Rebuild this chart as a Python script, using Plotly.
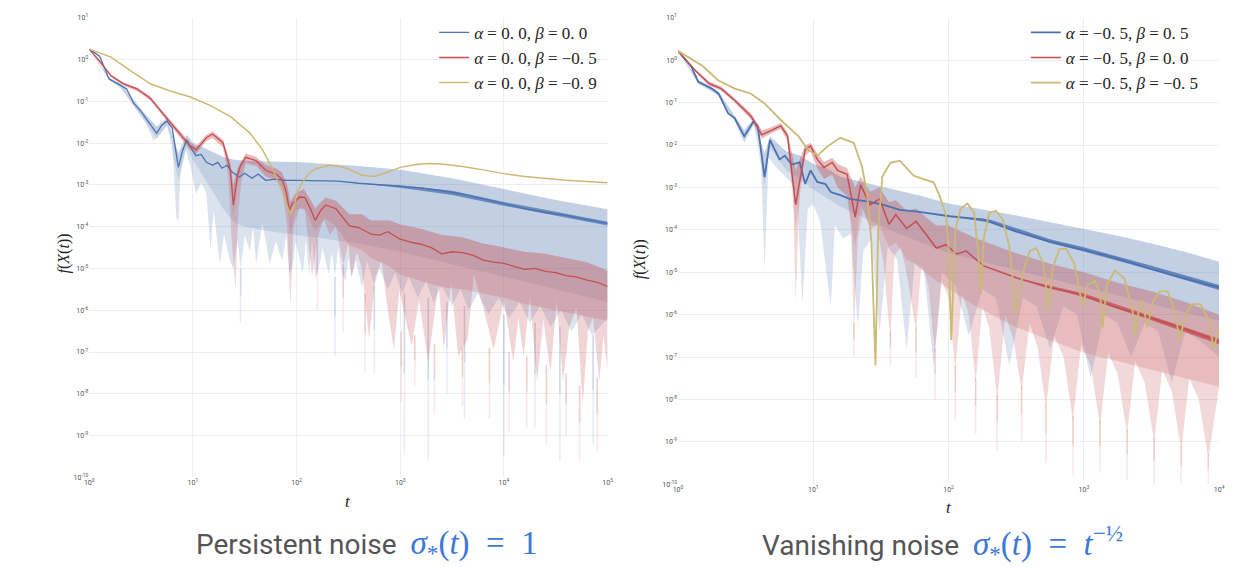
import numpy as np
import plotly.graph_objects as go

# ---------------- data (log10 t, log10 f) ----------------
# LEFT panel: persistent noise
L_blue_lt = [0.00,0.10,0.19,0.25,0.30,0.36,0.43,0.50,0.555,0.60,0.65,0.70,0.75,0.80,0.86,0.90,0.94,0.98,1.03,1.08,1.13,1.19,1.24,1.28,1.33,1.38,1.45,1.50,1.57,1.63,1.70,1.80,1.90,2.00,2.20,2.40,2.60,2.80,3.00,3.20,3.40,3.60,3.80,4.00,4.20,4.40,4.60,4.80,5.00]
L_blue_mean = [0.25,0.08,-0.46,-0.55,-0.62,-0.70,-1.05,-1.24,-1.44,-1.59,-1.76,-1.57,-1.47,-1.64,-2.58,-2.18,-1.92,-2.11,-2.30,-2.27,-2.46,-2.53,-2.46,-2.60,-2.53,-2.70,-2.81,-2.72,-2.84,-2.74,-2.89,-2.86,-2.89,-2.89,-2.90,-2.91,-2.96,-3.00,-3.04,-3.07,-3.14,-3.22,-3.33,-3.45,-3.57,-3.66,-3.73,-3.83,-3.92]
L_blue_noise_lt = [2.60,3.00,3.50,4.00,4.50,5.00]
L_blue_noise_hi = [-2.96,-3.01,-3.14,-3.41,-3.64,-3.88]
L_blue_noise_lo = [-2.96,-3.07,-3.24,-3.50,-3.74,-3.97]
L_blue_up_lt = [0.00,0.20,0.30,0.43,0.55,0.65,0.75,0.86,0.94,1.00,1.10,1.20,1.30,1.40,1.50,1.70,2.00,2.30,2.60,3.00,3.50,4.00,4.50,5.00]
L_blue_up = [0.25,-0.44,-0.57,-0.98,-1.33,-1.60,-1.40,-2.25,-1.80,-1.99,-2.11,-2.23,-2.34,-2.40,-2.42,-2.44,-2.45,-2.50,-2.55,-2.64,-2.84,-3.10,-3.36,-3.58]
L_blue_core = [0.25,-0.50,-0.65,-1.10,-1.52,-1.90,-1.57,-2.90,-2.10,-2.40,-2.80,-3.20,-3.60,-3.90,-4.00,-4.10,-4.20,-4.30,-4.40,-4.60,-4.90,-5.20,-5.50,-5.80]
L_blue_lo_lt = [0.00,0.20,0.30,0.43,0.55,0.62,0.68,0.75,0.80,0.84,0.86,0.88,0.93,0.98,1.03,1.08,1.13,1.17,1.20,1.26,1.30,1.36,1.39,1.43,1.46,1.50,1.55,1.58,1.61,1.67,1.74,1.80,1.86,1.90,1.93,1.96,1.99,2.06,2.09,2.12,2.15,2.18,2.23,2.25,2.31,2.34,2.37,2.40,2.44,2.47,2.50,2.53,2.57,2.63,2.68,2.75,2.80,2.88,2.95,3.02,3.08,3.17,3.25,3.32,3.40,3.50,3.58,3.66,3.75,3.85,3.95,4.05,4.15,4.25,4.35,4.45,4.55,4.65,4.75,4.85,5.00]
L_blue_lo = [0.25,-0.52,-0.68,-1.12,-1.55,-1.94,-1.80,-1.58,-1.95,-3.80,-3.85,-2.70,-2.15,-2.60,-3.22,-2.95,-3.20,-4.55,-3.60,-4.90,-4.20,-4.82,-5.00,-4.30,-5.00,-4.20,-4.58,-4.00,-4.90,-3.90,-4.89,-4.35,-4.82,-4.20,-5.10,-4.98,-4.35,-5.10,-4.30,-5.13,-4.35,-5.22,-4.82,-4.51,-5.13,-4.60,-5.20,-4.51,-5.13,-5.30,-4.75,-5.20,-4.80,-5.45,-4.82,-5.40,-5.00,-5.50,-5.10,-5.60,-5.20,-5.70,-5.30,-5.80,-5.40,-5.90,-5.50,-6.00,-5.60,-6.10,-5.70,-6.20,-5.80,-6.30,-5.90,-6.40,-6.00,-6.50,-6.10,-6.60,-6.20]
L_blue_spk_lt = [1.46,2.37,2.75,3.04,3.27,3.45,3.62,4.00,4.30,4.54,4.86]
L_blue_spk_top = [-5.0,-5.2,-5.4,-5.6,-5.7,-5.8,-5.9,-6.1,-6.3,-6.4,-6.6]
L_blue_spk_bot = [-6.3,-7.1,-7.5,-9.4,-9.6,-8.0,-8.6,-9.5,-8.8,-9.6,-9.2]

L_red_lt = [0.00,0.10,0.21,0.33,0.46,0.59,0.71,0.84,0.97,1.03,1.13,1.19,1.29,1.36,1.39,1.43,1.46,1.51,1.61,1.70,1.80,1.86,1.90,1.93,1.96,2.03,2.08,2.13,2.18,2.23,2.28,2.38,2.45,2.51,2.60,2.72,2.80,2.88,3.00,3.10,3.20,3.30,3.40,3.50,3.60,3.70,3.80,3.90,4.00,4.10,4.20,4.30,4.40,4.50,4.60,4.70,4.80,4.90,5.00]
L_red_mean = [0.25,-0.04,-0.39,-0.58,-0.70,-0.93,-1.29,-1.68,-2.06,-2.16,-1.87,-1.78,-1.99,-2.62,-3.48,-2.77,-2.53,-2.34,-2.42,-2.65,-2.74,-2.86,-3.17,-3.60,-3.45,-3.29,-3.30,-3.55,-3.85,-3.62,-3.48,-3.57,-3.80,-3.98,-4.02,-4.18,-4.20,-4.12,-4.30,-4.37,-4.42,-4.50,-4.65,-4.60,-4.62,-4.68,-4.80,-4.85,-4.88,-4.95,-5.02,-5.00,-5.07,-5.10,-5.17,-5.20,-5.28,-5.33,-5.43]
L_red_up_lt = [0.00,0.10,0.21,0.33,0.46,0.59,0.71,0.84,0.97,1.03,1.13,1.19,1.29,1.36,1.39,1.43,1.51,1.61,1.70,1.80,1.86,1.91,1.94,1.99,2.07,2.18,2.28,2.38,2.51,2.63,2.72,2.90,3.00,3.20,3.40,3.60,3.80,4.00,4.20,4.40,4.60,4.80,5.00]
L_red_up = [0.25,-0.02,-0.36,-0.55,-0.66,-0.88,-1.24,-1.62,-1.98,-2.08,-1.80,-1.72,-1.92,-2.45,-3.00,-2.60,-2.25,-2.33,-2.52,-2.60,-2.70,-3.00,-3.40,-3.20,-3.10,-3.55,-3.30,-3.38,-3.70,-3.70,-3.85,-3.85,-3.95,-4.05,-4.20,-4.25,-4.40,-4.50,-4.60,-4.65,-4.75,-4.85,-5.05]
L_red_core = [0.25,-0.06,-0.42,-0.62,-0.75,-0.98,-1.35,-1.75,-2.15,-2.25,-1.95,-1.88,-2.10,-2.80,-3.80,-3.00,-2.45,-2.52,-2.78,-2.88,-3.05,-3.50,-4.20,-3.60,-3.55,-4.10,-3.80,-4.00,-4.45,-4.55,-4.75,-4.95,-5.15,-5.30,-5.45,-5.50,-5.60,-5.70,-5.85,-5.95,-6.05,-6.15,-6.25]
L_red_lo_lt = [0.00,0.10,0.21,0.33,0.46,0.59,0.71,0.84,0.97,1.03,1.13,1.19,1.29,1.34,1.37,1.41,1.44,1.47,1.51,1.61,1.70,1.80,1.86,1.91,1.94,1.97,2.03,2.08,2.15,2.20,2.26,2.32,2.38,2.45,2.50,2.53,2.58,2.63,2.70,2.76,2.82,2.88,2.94,2.99,3.05,3.11,3.18,3.27,3.37,3.42,3.49,3.56,3.65,3.71,3.80,3.90,4.00,4.09,4.14,4.19,4.25,4.32,4.38,4.45,4.51,4.57,4.63,4.70,4.76,4.81,4.86,4.92,4.96,5.00]
L_red_lo = [0.25,-0.06,-0.42,-0.62,-0.75,-0.98,-1.35,-1.75,-2.15,-2.25,-1.95,-1.88,-2.10,-2.80,-4.20,-5.50,-3.60,-2.90,-2.50,-2.55,-2.80,-2.90,-3.10,-4.00,-5.90,-4.00,-3.55,-3.60,-5.20,-4.30,-3.80,-4.20,-4.00,-4.90,-4.40,-5.22,-4.60,-5.00,-6.70,-5.20,-4.82,-6.00,-6.94,-5.53,-6.20,-6.87,-5.76,-7.24,-5.36,-6.94,-5.36,-7.10,-6.70,-5.13,-5.93,-6.94,-5.76,-7.24,-6.20,-7.10,-5.69,-7.71,-6.23,-7.48,-5.76,-7.71,-6.40,-5.93,-8.28,-6.50,-6.16,-7.71,-6.60,-7.48]
L_red_spk_lt = [2.20,2.45,2.66,3.01,3.14,3.33,3.60,3.86,4.05,4.22,4.41,4.60,4.73,4.90]
L_red_spk_top = [-4.3,-4.9,-5.6,-6.5,-6.6,-6.8,-6.9,-6.9,-7.0,-7.1,-7.3,-7.5,-7.8,-7.6]
L_red_spk_bot = [-6.0,-6.5,-7.5,-8.2,-7.8,-8.5,-8.3,-8.6,-8.9,-8.8,-9.2,-9.0,-9.6,-9.4]

L_yel_lt = [0.00,0.21,0.40,0.59,0.78,0.97,1.16,1.36,1.55,1.67,1.77,1.85,1.90,1.94,1.97,2.01,2.06,2.12,2.18,2.31,2.40,2.50,2.63,2.75,2.85,3.00,3.15,3.27,3.40,3.60,3.80,4.00,4.20,4.40,4.60,4.80,5.00]
L_yel_mean = [0.25,0.06,-0.27,-0.58,-0.75,-0.89,-1.09,-1.36,-1.76,-2.15,-2.62,-3.09,-3.45,-3.71,-3.55,-3.15,-2.93,-2.72,-2.62,-2.53,-2.55,-2.62,-2.77,-2.80,-2.72,-2.58,-2.51,-2.49,-2.50,-2.56,-2.64,-2.73,-2.80,-2.85,-2.89,-2.92,-2.95]

# RIGHT panel: vanishing noise
R_blue_lt = [0.00,0.10,0.15,0.25,0.30,0.37,0.42,0.49,0.56,0.59,0.64,0.68,0.75,0.79,0.84,0.90,0.94,0.98,1.03,1.09,1.13,1.20,1.27,1.42,1.52,1.64,1.77,1.91,2.01,2.26,2.50,2.74,2.99,3.23,3.47,3.72,4.00]
R_blue_mean = [0.22,-0.16,-0.51,-0.67,-0.79,-1.25,-1.37,-1.79,-1.44,-1.56,-2.76,-1.88,-2.34,-2.25,-2.46,-2.41,-2.92,-2.60,-2.87,-2.92,-3.11,-3.18,-3.27,-3.34,-3.41,-3.53,-3.57,-3.64,-3.68,-3.76,-4.04,-4.27,-4.46,-4.66,-4.90,-5.13,-5.36]
R_blue_noise_lt = [2.01,2.30,2.75,3.00,3.50,4.00]
R_blue_noise_hi = [-3.68,-3.75,-4.22,-4.41,-4.85,-5.30]
R_blue_noise_lo = [-3.68,-3.83,-4.31,-4.51,-4.95,-5.42]
R_blue_up_lt = [0.00,0.15,0.30,0.42,0.49,0.56,0.64,0.68,0.80,0.90,1.00,1.10,1.20,1.40,1.60,1.80,2.00,2.25,2.50,2.75,3.00,3.25,3.50,3.75,4.00]
R_blue_up = [0.22,-0.46,-0.74,-1.30,-1.65,-1.38,-2.20,-1.80,-2.15,-2.25,-2.45,-2.55,-2.75,-2.90,-3.05,-3.20,-3.38,-3.52,-3.66,-3.82,-3.98,-4.14,-4.32,-4.52,-4.75]
R_blue_core = [0.22,-0.54,-0.82,-1.42,-1.90,-1.50,-3.00,-2.05,-2.60,-2.80,-3.05,-3.25,-3.45,-3.75,-4.05,-4.30,-4.55,-4.75,-4.95,-5.15,-5.35,-5.55,-5.75,-5.95,-6.15]
R_blue_lo_lt = [0.00,0.15,0.30,0.42,0.49,0.56,0.61,0.64,0.67,0.72,0.78,0.84,0.88,0.92,0.96,1.00,1.05,1.13,1.16,1.22,1.28,1.33,1.37,1.43,1.49,1.55,1.62,1.69,1.75,1.82,1.89,1.95,2.05,2.15,2.25,2.35,2.45,2.55,2.65,2.75,2.85,2.95,3.05,3.15,3.25,3.35,3.45,3.55,3.65,3.75,3.85,4.00]
R_blue_lo = [0.22,-0.56,-0.84,-1.45,-1.95,-1.52,-2.00,-4.96,-2.30,-2.50,-2.70,-2.90,-3.20,-5.73,-3.50,-3.40,-3.80,-5.82,-3.90,-4.20,-4.10,-6.29,-4.50,-4.20,-6.42,-4.40,-4.70,-6.82,-4.80,-5.00,-7.21,-5.00,-5.30,-6.50,-5.40,-5.60,-7.20,-5.60,-5.80,-6.80,-5.80,-6.00,-7.50,-6.00,-6.20,-7.00,-6.20,-6.40,-7.60,-6.40,-6.60,-7.00]

R_red_lt = [0.00,0.13,0.23,0.32,0.42,0.54,0.62,0.69,0.76,0.81,0.87,0.94,0.98,1.03,1.08,1.14,1.18,1.25,1.31,1.35,1.42,1.49,1.56,1.61,1.69,1.76,1.83,1.91,1.98,2.06,2.13,2.26,2.50,2.74,2.99,3.23,3.47,3.72,4.00]
R_red_mean = [0.22,-0.25,-0.55,-0.67,-0.95,-1.32,-1.76,-1.65,-1.55,-1.79,-3.41,-2.11,-2.02,-2.34,-2.53,-2.41,-2.60,-2.69,-3.70,-2.94,-3.41,-3.27,-3.87,-3.64,-3.97,-3.80,-4.10,-4.43,-4.35,-4.57,-4.50,-4.85,-5.13,-5.36,-5.54,-5.82,-6.05,-6.31,-6.63]
R_red_noise_lt = [2.50,3.00,3.50,4.00]
R_red_noise_hi = [-5.13,-5.50,-6.03,-6.57]
R_red_noise_lo = [-5.13,-5.59,-6.13,-6.70]
R_red_up_lt = [0.00,0.13,0.23,0.32,0.42,0.54,0.62,0.69,0.76,0.81,0.87,0.94,0.98,1.03,1.08,1.14,1.18,1.25,1.31,1.35,1.42,1.49,1.56,1.61,1.69,1.76,1.83,1.91,2.00,2.20,2.50,2.75,3.00,3.25,3.50,3.75,4.00]
R_red_up = [0.22,-0.22,-0.50,-0.62,-0.90,-1.25,-1.65,-1.58,-1.48,-1.70,-2.60,-2.00,-1.95,-2.20,-2.40,-2.30,-2.45,-2.55,-3.00,-2.75,-3.10,-3.00,-3.35,-3.30,-3.55,-3.50,-3.70,-3.90,-3.90,-4.20,-4.55,-4.80,-5.00,-5.25,-5.45,-5.70,-6.00]
R_red_core = [0.22,-0.28,-0.60,-0.72,-1.00,-1.40,-1.85,-1.72,-1.62,-1.90,-4.00,-2.25,-2.15,-2.55,-2.80,-2.70,-3.00,-3.20,-4.40,-3.40,-3.90,-3.90,-4.40,-4.30,-4.70,-4.80,-5.00,-5.20,-5.40,-5.80,-6.30,-6.60,-6.90,-7.10,-7.30,-7.50,-7.70]
R_red_lo_lt = [0.00,0.13,0.23,0.32,0.42,0.54,0.62,0.69,0.76,0.81,0.85,0.87,0.90,0.94,0.98,1.03,1.08,1.14,1.18,1.25,1.28,1.30,1.33,1.37,1.42,1.47,1.52,1.57,1.60,1.65,1.70,1.76,1.80,1.85,1.90,1.95,2.00,2.05,2.10,2.15,2.20,2.25,2.30,2.36,2.42,2.48,2.54,2.60,2.66,2.72,2.78,2.85,2.92,2.98,3.05,3.12,3.18,3.25,3.32,3.38,3.45,3.52,3.58,3.65,3.72,3.78,3.85,3.92,4.00]
R_red_lo = [0.22,-0.28,-0.60,-0.72,-1.00,-1.40,-1.85,-1.72,-1.62,-1.90,-3.00,-5.70,-3.00,-2.25,-2.15,-2.55,-2.80,-2.70,-3.00,-3.20,-4.00,-6.40,-4.20,-3.50,-4.00,-3.90,-4.80,-6.59,-4.60,-4.40,-5.20,-6.40,-4.80,-5.30,-6.90,-5.20,-5.60,-7.30,-5.50,-6.00,-7.60,-5.80,-6.30,-8.00,-6.00,-6.60,-7.80,-6.20,-6.80,-8.20,-6.50,-7.00,-8.50,-6.70,-7.20,-8.60,-6.90,-7.40,-8.80,-7.10,-7.60,-9.00,-7.30,-7.80,-9.20,-7.50,-8.00,-9.40,-7.70]
R_red_spk_lt = [1.30,1.57,1.76,1.90,2.05,2.20,2.36,2.54,2.72,2.92,3.12,3.32,3.52,3.72,3.92]
R_red_spk_top = [-6.2,-6.4,-6.3,-6.8,-7.2,-7.5,-7.9,-7.7,-8.1,-8.4,-8.5,-8.7,-8.9,-9.1,-9.3]
R_red_spk_bot = [-7.0,-7.2,-7.5,-8.0,-8.5,-8.8,-9.2,-9.0,-9.5,-9.8,-9.7,-9.9,-10.0,-10.0,-10.0]

R_yel_lt = [0.00,0.18,0.30,0.42,0.54,0.64,0.76,0.89,0.96,1.03,1.11,1.20,1.30,1.36,1.40,1.43,1.46,1.48,1.51,1.57,1.64,1.74,1.82,1.89,1.93,1.98,2.00,2.02,2.05,2.09,2.14,2.19,2.22,2.24,2.26,2.30,2.35,2.40,2.45,2.50,2.55,2.60,2.65,2.70,2.74,2.77,2.82,2.87,2.93,2.99,3.03,3.08,3.12,3.14,3.17,3.23,3.30,3.36,3.38,3.41,3.43,3.47,3.51,3.56,3.62,3.67,3.71,3.75,3.80,3.86,3.92,3.96,4.00]
R_yel_mean = [0.22,-0.13,-0.48,-0.67,-0.79,-1.02,-1.41,-1.79,-2.11,-2.25,-2.02,-1.83,-1.95,-2.50,-3.20,-4.30,-7.20,-4.00,-2.75,-2.42,-2.37,-2.72,-2.81,-2.88,-3.17,-3.64,-4.40,-6.60,-4.00,-3.50,-3.38,-3.60,-4.60,-5.50,-4.20,-3.60,-3.55,-3.75,-4.40,-6.00,-5.00,-4.50,-4.43,-4.80,-5.90,-4.90,-4.45,-4.45,-4.80,-5.80,-5.30,-5.20,-5.50,-6.30,-5.30,-4.96,-5.15,-5.90,-6.50,-5.80,-5.66,-6.30,-5.70,-5.45,-5.45,-5.90,-6.60,-6.00,-5.75,-5.75,-6.10,-6.80,-6.30]

# axis ticks (exponents of ten)
X_TICK_EXP_LEFT = [0, 1, 2, 3, 4, 5]
X_TICK_EXP_RIGHT = [0, 1, 2, 3, 4]
Y_TICK_EXP = [-10, -9, -8, -7, -6, -5, -4, -3, -2, -1, 0, 1]

LEGEND_LEFT = ["<i>α</i> = 0. 0, <i>β</i> = 0. 0",
               "<i>α</i> = 0. 0, <i>β</i> = −0. 5",
               "<i>α</i> = 0. 0, <i>β</i> = −0. 9"]
LEGEND_RIGHT = ["<i>α</i> = −0. 5, <i>β</i> = 0. 5",
                "<i>α</i> = −0. 5, <i>β</i> = 0. 0",
                "<i>α</i> = −0. 5, <i>β</i> = −0. 5"]

# ---------------- styling ----------------
BLUE = "#4c72b0"
RED = "#c44e52"
YEL = "#ccb974"
SERIF = "Liberation Serif, DejaVu Serif, serif"


def rgba(hexc, a):
    h = hexc.lstrip("#")
    return "rgba(%d,%d,%d,%.3f)" % (int(h[0:2], 16), int(h[2:4], 16), int(h[4:6], 16), a)


def pw(a):
    return (10.0 ** np.asarray(a, dtype=float)).tolist()


for a, b in [(L_blue_lt, L_blue_mean), (L_blue_up_lt, L_blue_up), (L_blue_up_lt, L_blue_core),
             (L_blue_lo_lt, L_blue_lo), (L_blue_spk_lt, L_blue_spk_top), (L_blue_spk_lt, L_blue_spk_bot),
             (L_blue_noise_lt, L_blue_noise_hi), (L_blue_noise_lt, L_blue_noise_lo),
             (L_red_lt, L_red_mean), (L_red_up_lt, L_red_up), (L_red_up_lt, L_red_core),
             (L_red_lo_lt, L_red_lo), (L_red_spk_lt, L_red_spk_top), (L_red_spk_lt, L_red_spk_bot),
             (L_yel_lt, L_yel_mean), (R_blue_lt, R_blue_mean), (R_blue_up_lt, R_blue_up),
             (R_blue_noise_lt, R_blue_noise_hi), (R_blue_noise_lt, R_blue_noise_lo),
             (R_blue_up_lt, R_blue_core), (R_blue_lo_lt, R_blue_lo), (R_red_lt, R_red_mean),
             (R_red_noise_lt, R_red_noise_hi), (R_red_noise_lt, R_red_noise_lo),
             (R_red_up_lt, R_red_up), (R_red_up_lt, R_red_core), (R_red_lo_lt, R_red_lo),
             (R_red_spk_lt, R_red_spk_top), (R_red_spk_lt, R_red_spk_bot), (R_yel_lt, R_yel_mean)]:
    assert len(a) == len(b), (len(a), len(b), a[:3])

fig = go.Figure()


def band(lt_up, up, lt_lo, lo, color, xa, ya):
    x = pw(lt_up) + pw(lt_lo)[::-1]
    y = pw(up) + pw(lo)[::-1]
    fig.add_trace(go.Scatter(x=x, y=y, mode="lines", fill="toself", fillcolor=color,
                             line=dict(width=0), hoverinfo="skip", showlegend=False,
                             xaxis=xa, yaxis=ya))


def spikes(lt, top, bot, hexc, xa, ya):
    # each streak drawn in two halves, the lower one fainter
    for part, alpha in ((0, 0.28), (1, 0.12)):
        xs, ys = [], []
        for t, a, b in zip(lt, top, bot):
            m = 0.5 * (a + b)
            seg = (a, m) if part == 0 else (m, b)
            xs += [10.0 ** t, 10.0 ** t, None]
            ys += [10.0 ** seg[0], 10.0 ** seg[1], None]
        fig.add_trace(go.Scatter(x=xs, y=ys, mode="lines", line=dict(color=rgba(hexc, alpha), width=1.6),
                                 hoverinfo="skip", showlegend=False, xaxis=xa, yaxis=ya))


def line(lt, v, color, name, xa, ya, legend, w=1.3):
    fig.add_trace(go.Scatter(x=pw(lt), y=pw(v), mode="lines", name=name,
                             line=dict(color=color, width=w), xaxis=xa, yaxis=ya,
                             legend=legend))


# left panel
band(L_blue_up_lt, L_blue_up, L_blue_lo_lt, L_blue_lo, rgba(BLUE, 0.20), "x", "y")
band(L_blue_up_lt, L_blue_up, L_blue_up_lt, L_blue_core, rgba(BLUE, 0.16), "x", "y")
spikes(L_blue_spk_lt, L_blue_spk_top, L_blue_spk_bot, BLUE, "x", "y")
band(L_red_up_lt, L_red_up, L_red_lo_lt, L_red_lo, rgba(RED, 0.24), "x", "y")
band(L_red_up_lt, L_red_up, L_red_up_lt, L_red_core, rgba(RED, 0.20), "x", "y")
spikes(L_red_spk_lt, L_red_spk_top, L_red_spk_bot, RED, "x", "y")
band(L_blue_noise_lt, L_blue_noise_hi, L_blue_noise_lt, L_blue_noise_lo, rgba(BLUE, 0.75), "x", "y")
line(L_blue_lt, L_blue_mean, BLUE, LEGEND_LEFT[0], "x", "y", "legend")
line(L_red_lt, L_red_mean, RED, LEGEND_LEFT[1], "x", "y", "legend")
line(L_yel_lt, L_yel_mean, YEL, LEGEND_LEFT[2], "x", "y", "legend", w=1.5)

# right panel
band(R_blue_up_lt, R_blue_up, R_blue_lo_lt, R_blue_lo, rgba(BLUE, 0.20), "x2", "y2")
band(R_blue_up_lt, R_blue_up, R_blue_up_lt, R_blue_core, rgba(BLUE, 0.16), "x2", "y2")
band(R_red_up_lt, R_red_up, R_red_lo_lt, R_red_lo, rgba(RED, 0.22), "x2", "y2")
band(R_red_up_lt, R_red_up, R_red_up_lt, R_red_core, rgba(RED, 0.20), "x2", "y2")
spikes(R_red_spk_lt, R_red_spk_top, R_red_spk_bot, RED, "x2", "y2")
band(R_blue_noise_lt, R_blue_noise_hi, R_blue_noise_lt, R_blue_noise_lo, rgba(BLUE, 0.8), "x2", "y2")
band(R_red_noise_lt, R_red_noise_hi, R_red_noise_lt, R_red_noise_lo, rgba(RED, 0.75), "x2", "y2")
line(R_blue_lt, R_blue_mean, BLUE, LEGEND_RIGHT[0], "x2", "y2", "legend2", w=1.8)
line(R_red_lt, R_red_mean, RED, LEGEND_RIGHT[1], "x2", "y2", "legend2", w=1.5)
line(R_yel_lt, R_yel_mean, YEL, LEGEND_RIGHT[2], "x2", "y2", "legend2", w=1.8)


def tick_text(exps):
    return ["10<sup>%d</sup>" % e for e in exps]


common_ax = dict(type="log", showgrid=True, gridcolor="#eeeeee", gridwidth=1,
                 zeroline=False, showline=False, ticks="",
                 tickfont=dict(size=7, color="#555555", family="Roboto, sans-serif"))

W, H = 1238, 567
leg_common = dict(xanchor="left", yanchor="top", bgcolor="rgba(255,255,255,0)",
                  font=dict(family=SERIF, size=17, color="#222"), tracegroupgap=0)
fig.update_layout(
    width=W, height=H, margin=dict(l=0, r=0, t=0, b=0),
    paper_bgcolor="white", plot_bgcolor="white",
    xaxis=dict(common_ax, domain=[85 / W, 608 / W], range=[0, 5], anchor="y",
               tickvals=[10.0 ** e for e in X_TICK_EXP_LEFT], ticktext=tick_text(X_TICK_EXP_LEFT)),
    yaxis=dict(common_ax, domain=[1 - 480 / H, 1 - 13 / H], range=[-10, 1], anchor="x",
               tickvals=[10.0 ** e for e in Y_TICK_EXP], ticktext=tick_text(Y_TICK_EXP)),
    xaxis2=dict(common_ax, domain=[679 / W, 1225 / W], range=[0, 4], anchor="y2",
                tickvals=[10.0 ** e for e in X_TICK_EXP_RIGHT], ticktext=tick_text(X_TICK_EXP_RIGHT)),
    yaxis2=dict(common_ax, domain=[1 - 487 / H, 1 - 13 / H], range=[-10, 1], anchor="x2",
                tickvals=[10.0 ** e for e in Y_TICK_EXP], ticktext=tick_text(Y_TICK_EXP)),
    legend=dict(leg_common, x=433 / W, y=1 - 10 / H),
    legend2=dict(leg_common, x=1030 / W, y=1 - 10 / H),
    showlegend=True,
)

ann = []
ann.append(dict(x=60 / W, y=1 - 252 / H, text="<i>f</i>(<i>X</i>(<i>t</i>))", textangle=-90,
                font=dict(family=SERIF, size=16, color="#222")))
ann.append(dict(x=641 / W, y=1 - 258 / H, text="<i>f</i>(<i>X</i>(<i>t</i>))", textangle=-90,
                font=dict(family=SERIF, size=16, color="#222")))
ann.append(dict(x=346 / W, y=1 - 504 / H, text="<i>t</i>", font=dict(family=SERIF, size=17, color="#222")))
ann.append(dict(x=952 / W, y=1 - 511 / H, text="<i>t</i>", font=dict(family=SERIF, size=17, color="#222")))
MATH = "font-family:Liberation Serif, serif;color:#3c78d8;font-size:33px"
ann.append(dict(x=365 / W, y=1 - 549 / H,
                text="Persistent noise  <span style='%s'><i>σ</i><sub>*</sub>(<i>t</i>)  =  1</span>" % MATH,
                font=dict(family="Roboto, sans-serif", size=28, color="#555555")))
ann.append(dict(x=946 / W, y=1 - 547 / H,
                text="Vanishing noise  <span style='%s'><i>σ</i><sub>*</sub>(<i>t</i>)  =  <i>t</i><sup>−½</sup></span>" % MATH,
                font=dict(family="Roboto, sans-serif", size=28, color="#555555")))
for a in ann:
    a.update(xref="paper", yref="paper", showarrow=False, xanchor="center", yanchor="middle")
fig.update_layout(annotations=ann)

fig.write_html("out.html")
